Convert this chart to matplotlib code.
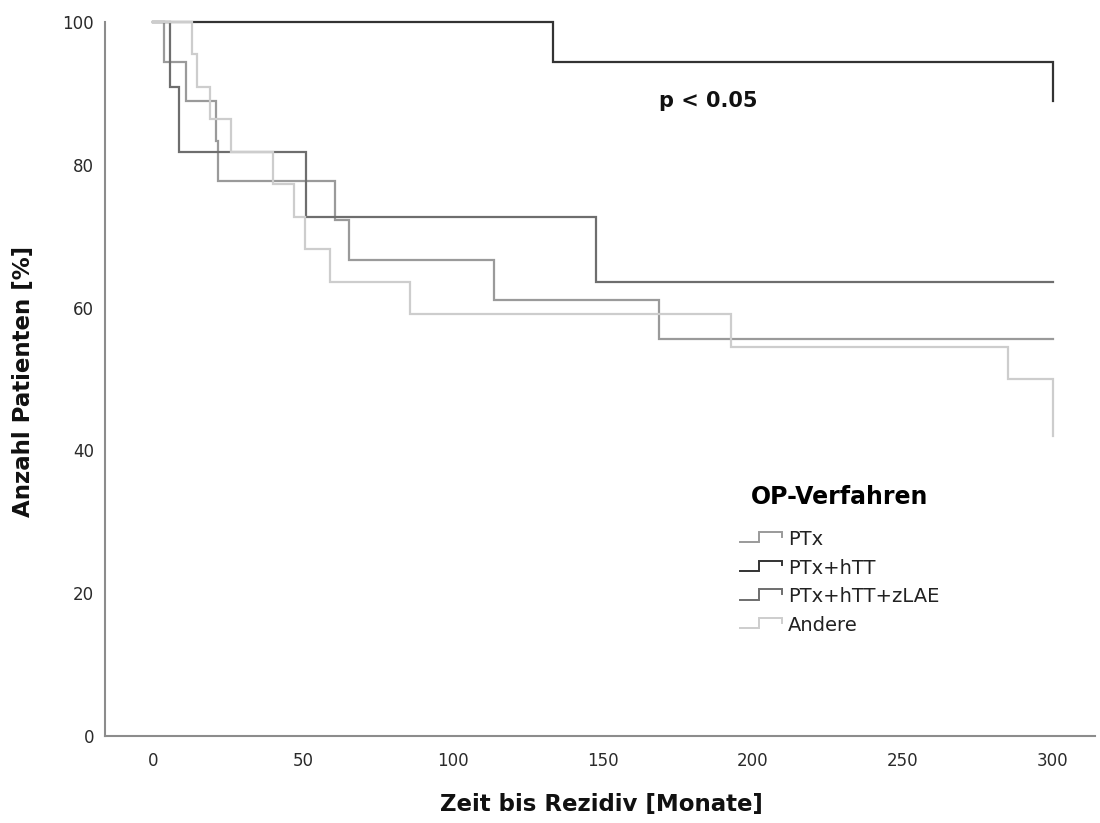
import numpy as np
import matplotlib
matplotlib.use("Agg")
import matplotlib.pyplot as plt
from matplotlib.lines import Line2D
from matplotlib.legend_handler import HandlerBase

plt.rcParams['font.family'] = ['DejaVu Sans']

# ---- data ----
groups = ["PTx", "PTx+hTT", "PTx+hTT+zLAE", "Andere"]

ptx_t = [0, 3.7, 11.0, 20.9, 21.7, 60.8, 65.2, 113.7, 168.5, 300]
ptx_s = [100, 94.4, 88.9, 83.3, 77.8, 72.2, 66.7, 61.1, 55.6, 55.6]

htt_t = [0, 133.2, 300]
htt_s = [100, 94.4, 88.9]

zlae_t = [0, 5.6, 8.7, 51.0, 147.7, 300]
zlae_s = [100, 90.9, 81.8, 72.7, 63.6, 63.6]

andere_t = [0, 12.9, 14.8, 19.0, 26.0, 40.0, 47.0, 50.8, 58.9, 85.7, 192.6, 285.0, 300]
andere_s = [100, 95.5, 90.9, 86.4, 81.8, 77.3, 72.7, 68.2, 63.6, 59.1, 54.5, 50.0, 42.0]

x_ticks = [0, 50, 100, 150, 200, 250, 300]
y_ticks = [0, 20, 40, 60, 80, 100]

colors = ["#9a9a9a", "#333333", "#6e6e6e", "#cdcdcd"]

# ---- figure ----
W, H = 1100, 823
fig = plt.figure(figsize=(W / 100, H / 100), dpi=100)
left, right, top, bottom = 105, 1095, 22, 736
ax = fig.add_axes([left / W, 1 - bottom / H, (right - left) / W, (bottom - top) / H])

series = [(ptx_t, ptx_s), (htt_t, htt_s), (zlae_t, zlae_s), (andere_t, andere_s)]
handles = []
for (t, s), c, g in zip(series, colors, groups):
    ln, = ax.step(t, s, where="post", color=c, lw=1.6, label=g, clip_on=False,
                  solid_joinstyle="miter")
    handles.append(ln)

ax.set_xlim(-16, 314)
ax.set_ylim(0, 100)
ax.set_xticks(x_ticks)
ax.set_yticks(y_ticks)
ax.tick_params(axis="both", length=0, labelsize=12, labelcolor="#2a2a2a")
ax.tick_params(axis="x", pad=11.5)
ax.tick_params(axis="y", pad=8)
for sp in ["top", "right"]:
    ax.spines[sp].set_visible(False)
for sp in ["left", "bottom"]:
    ax.spines[sp].set_color("#8c8c8c")
    ax.spines[sp].set_linewidth(1.5)

fig.text(601 / W, 1 - 805 / H, "Zeit bis Rezidiv [Monate]", ha="center", va="center",
         fontsize=16.5, fontweight="bold", color="#111111")
fig.text(24 / W, 1 - 381 / H, "Anzahl Patienten [%]", ha="center", va="center",
         rotation=90, fontsize=16.5, fontweight="bold", color="#111111")

ax.text(185, 89, "p < 0.05", ha="center", va="center", fontsize=15,
        fontweight="bold", color="#111111")


class StepHandler(HandlerBase):
    def create_artists(self, legend, orig_handle, xdescent, ydescent, width, height,
                       fontsize, trans):
        xs = np.array([0, 0.45, 0.45, 1.0, 1.0]) * width - xdescent
        ys = np.array([0.2, 0.2, 0.95, 0.95, 0.6]) * height - ydescent
        line = Line2D(xs, ys, color=orig_handle.get_color(), lw=1.4,
                      transform=trans, solid_joinstyle="miter")
        return [line]


leg = ax.legend(handles=handles, labels=groups, handler_map={Line2D: StepHandler()},
                title="OP-Verfahren", loc="upper left",
                bbox_to_anchor=(740 / W, 1 - 485 / H), bbox_transform=fig.transFigure,
                frameon=False, fontsize=14, borderpad=0, borderaxespad=0,
                handlelength=2.16, handletextpad=0.3, labelspacing=0.5,
                title_fontproperties={"size": 17, "weight": "bold"})
leg._legend_box.sep = 15
for txt in leg.get_texts():
    txt.set_color("#222222")

fig.savefig("out.png", dpi=100)
